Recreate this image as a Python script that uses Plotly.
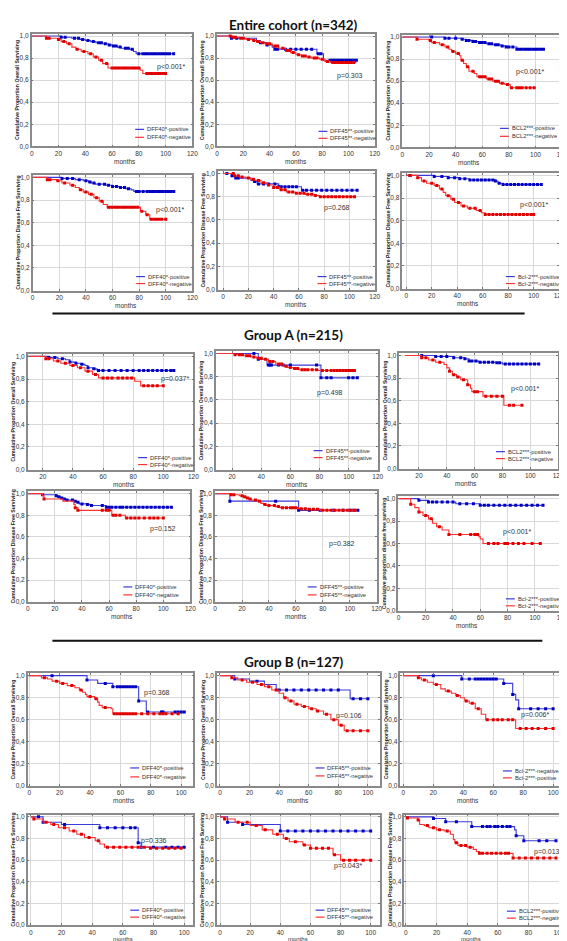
import plotly.graph_objects as go
from bisect import bisect_right

# ---------------- DATA (step times t, survival s, censor times c) ----------------
# Entire cohort, overall survival
e_os_dff40_pos_t = [0, 22, 30, 36, 40, 44, 48, 53, 57, 60, 64, 67, 73, 76, 78, 106]
e_os_dff40_pos_s = [1, .99, .98, .97, .96, .95, .94, .93, .92, .91, .90, .89, .88, .86, .84, .84]
e_os_dff40_pos_c = [22, 25, 32, 35, 38, 42, 46, 50, 52, 55, 58, 61, 63, 66, 70, 72, 75, 80, 83, 85, 87, 89, 91, 93, 95, 97, 99, 101, 103, 106]
e_os_dff40_neg_t = [0, 11, 20, 22, 26, 30, 33, 37, 42, 46, 50, 53, 57, 81, 83, 100]
e_os_dff40_neg_s = [1, .98, .97, .95, .93, .90, .88, .86, .84, .81, .78, .75, .71, .69, .66, .66]
e_os_dff40_neg_c = [11, 13, 20, 24, 28, 34, 39, 44, 48, 52, 56, 60, 62, 64, 66, 68, 70, 72, 74, 76, 78, 80, 86, 88, 90, 92, 94, 96, 98, 100]

e_os_dff45_pos_t = [0, 11, 30, 33, 38, 42, 44, 76, 81, 106]
e_os_dff45_pos_s = [1, .98, .96, .94, .92, .90, .88, .84, .78, .78]
e_os_dff45_pos_c = [11, 15, 33, 38, 44, 46, 52, 56, 60, 64, 68, 72, 77, 79, 86, 88, 90, 92, 94, 96, 98, 100, 102, 104, 106]
e_os_dff45_neg_t = [0, 12, 17, 22, 27, 30, 33, 37, 42, 47, 52, 56, 60, 64, 68, 72, 78, 82, 86, 106]
e_os_dff45_neg_s = [1, .99, .98, .97, .96, .95, .94, .93, .91, .89, .87, .85, .83, .82, .81, .80, .79, .77, .76, .76]
e_os_dff45_neg_c = [10, 12, 14, 18, 20, 24, 28, 31, 35, 38, 40, 44, 46, 50, 53, 55, 58, 62, 65, 67, 70, 74, 76, 80, 84, 88, 90, 92, 94, 96, 98, 100, 102, 104]

e_os_bcl2_pos_t = [0, 32, 44, 48, 53, 57, 63, 68, 74, 78, 86, 106]
e_os_bcl2_pos_s = [1, .99, .98, .97, .96, .95, .94, .93, .92, .91, .89, .89]
e_os_bcl2_pos_c = [22, 32, 35, 40, 45, 48, 50, 53, 55, 58, 60, 62, 65, 67, 70, 72, 75, 78, 80, 83, 86, 88, 90, 92, 94, 96, 98, 100, 102, 104, 106]
e_os_bcl2_neg_t = [0, 11, 20, 22, 28, 32, 35, 37, 40, 43, 44, 46, 48, 50, 54, 56, 63, 68, 73, 77, 81, 100]
e_os_bcl2_neg_s = [1, .98, .97, .95, .93, .91, .89, .87, .85, .83, .79, .76, .73, .69, .67, .64, .62, .60, .58, .57, .54, .54]
e_os_bcl2_neg_c = [11, 21, 24, 30, 34, 38, 42, 45, 49, 53, 58, 60, 62, 65, 67, 70, 72, 75, 79, 82, 86, 88, 90, 93, 96, 99]

# Entire cohort, disease free survival
e_dfs_dff40_pos_t = [0, 22, 32, 38, 42, 44, 47, 55, 60, 65, 70, 74, 76, 106]
e_dfs_dff40_pos_s = [1, .99, .98, .97, .96, .95, .94, .93, .92, .91, .90, .89, .876, .876]
e_dfs_dff40_pos_c = [22, 26, 30, 35, 40, 43, 46, 50, 54, 57, 60, 63, 66, 69, 72, 78, 80, 83, 86, 88, 90, 92, 94, 96, 98, 100, 102, 104, 106]
e_dfs_dff40_neg_t = [0, 11, 18, 22, 28, 32, 35, 38, 42, 46, 50, 53, 56, 81, 85, 88, 100]
e_dfs_dff40_neg_s = [1, .98, .97, .95, .93, .91, .89, .87, .85, .82, .79, .76, .735, .70, .67, .63, .63]
e_dfs_dff40_neg_c = [11, 13, 19, 24, 30, 36, 40, 44, 48, 52, 57, 59, 61, 63, 65, 67, 69, 71, 73, 75, 77, 79, 82, 86, 89, 91, 93, 95, 97, 100]

e_dfs_dff45_pos_t = [0, 7, 10, 22, 24, 27, 44, 62, 106]
e_dfs_dff45_pos_s = [1, .98, .96, .94, .93, .91, .885, .855, .855]
e_dfs_dff45_pos_c = [3, 7, 10, 12, 25, 28, 32, 36, 41, 44, 46, 49, 52, 55, 58, 63, 66, 70, 74, 78, 82, 86, 90, 94, 98, 102, 106]
e_dfs_dff45_neg_t = [0, 9, 13, 18, 22, 25, 30, 35, 40, 45, 50, 57, 65, 72, 76, 104]
e_dfs_dff45_neg_s = [1, .98, .97, .96, .95, .94, .92, .90, .88, .86, .84, .83, .82, .81, .80, .80]
e_dfs_dff45_neg_c = [8, 9, 12, 15, 20, 24, 28, 32, 36, 40, 43, 46, 49, 52, 55, 58, 61, 64, 67, 70, 73, 77, 80, 83, 86, 89, 92, 95, 98, 101, 104]

e_dfs_bcl2_pos_t = [0, 22, 33, 42, 50, 70, 72, 76, 106]
e_dfs_bcl2_pos_s = [1, .99, .98, .97, .96, .95, .93, .92, .92]
e_dfs_bcl2_pos_c = [3, 22, 28, 33, 38, 42, 46, 50, 53, 56, 59, 62, 65, 68, 70, 73, 76, 79, 82, 85, 88, 91, 94, 97, 100, 103, 106]
e_dfs_bcl2_neg_t = [0, 9, 12, 16, 22, 26, 29, 31, 35, 38, 43, 48, 55, 59, 62, 100]
e_dfs_bcl2_neg_s = [1, .98, .95, .93, .91, .88, .85, .82, .79, .76, .73, .71, .69, .67, .655, .655]
e_dfs_bcl2_neg_c = [3, 9, 14, 20, 24, 28, 33, 37, 41, 45, 50, 54, 58, 62, 65, 68, 71, 74, 77, 80, 83, 86, 89, 92, 95, 98, 100]

# Group A, overall survival
a_os_dff40_pos_t = [10, 24, 30, 35, 38, 42, 45, 48, 50, 53, 56, 107]
a_os_dff40_pos_s = [1, .99, .98, .97, .95, .94, .93, .92, .90, .89, .875, .875]
a_os_dff40_pos_c = [24, 28, 33, 38, 42, 46, 50, 54, 57, 60, 64, 68, 72, 76, 80, 84, 87, 90, 93, 96, 99, 102, 105, 107]
a_os_dff40_neg_t = [10, 22, 27, 32, 38, 43, 48, 53, 57, 81, 85, 100]
a_os_dff40_neg_s = [1, .98, .96, .94, .92, .90, .87, .84, .81, .78, .74, .74]
a_os_dff40_neg_c = [22, 24, 30, 35, 40, 45, 50, 55, 60, 63, 66, 70, 73, 76, 79, 87, 90, 93, 96, 100]

a_os_dff45_pos_t = [10, 38, 44, 81, 106]
a_os_dff45_pos_s = [1, .95, .90, .79, .79]
a_os_dff45_pos_c = [35, 38, 45, 46, 47, 52, 55, 60, 78, 81, 85, 88, 100, 103, 106]
a_os_dff45_neg_t = [10, 22, 28, 33, 37, 41, 45, 50, 55, 58, 62, 66, 79, 104]
a_os_dff45_neg_s = [1, .99, .98, .97, .96, .95, .93, .91, .89, .88, .87, .86, .853, .853]
a_os_dff45_neg_c = [22, 25, 27, 30, 32, 35, 38, 40, 43, 46, 48, 52, 54, 57, 60, 63, 65, 68, 70, 72, 75, 78, 82, 85, 88, 90, 92, 94, 96, 98, 100, 102, 104]

a_os_bcl2_pos_t = [10, 32, 45, 53, 56, 63, 75, 80, 106]
a_os_bcl2_pos_s = [1, .99, .98, .97, .95, .94, .935, .925, .925]
a_os_bcl2_pos_c = [22, 32, 36, 40, 45, 50, 53, 56, 58, 61, 64, 67, 70, 73, 76, 78, 82, 85, 88, 91, 94, 97, 100, 103, 106]
a_os_bcl2_neg_t = [10, 22, 27, 32, 38, 40, 42, 44, 47, 50, 55, 57, 58, 66, 81, 94]
a_os_bcl2_neg_s = [1, .98, .96, .94, .92, .89, .86, .83, .81, .785, .74, .71, .68, .64, .56, .56]
a_os_bcl2_neg_c = [22, 25, 30, 35, 42, 45, 48, 52, 55, 60, 62, 68, 72, 76, 80, 85, 88, 94]

# Group A, disease free survival
a_dfs_dff40_pos_t = [0, 11, 21, 22, 24, 26, 28, 34, 36, 38, 44, 46, 58, 106]
a_dfs_dff40_pos_s = [1, .99, .98, .97, .96, .95, .94, .93, .92, .905, .90, .89, .875, .875]
a_dfs_dff40_pos_c = [11, 21, 23, 25, 27, 29, 33, 35, 37, 40, 44, 47, 55, 58, 60, 62, 65, 68, 70, 73, 76, 79, 82, 85, 88, 91, 94, 97, 100, 103, 106]
a_dfs_dff40_neg_t = [0, 11, 12, 26, 34, 35, 37, 62, 72, 100]
a_dfs_dff40_neg_s = [1, .98, .95, .93, .90, .87, .845, .80, .775, .775]
a_dfs_dff40_neg_c = [12, 35, 37, 55, 58, 60, 63, 65, 68, 73, 76, 79, 82, 86, 90, 93, 96, 100]

a_dfs_dff45_pos_t = [0, 11, 62, 106]
a_dfs_dff45_pos_s = [1, .93, .845, .845]
a_dfs_dff45_pos_c = [11, 45, 62, 70, 78, 88, 95, 100, 103, 106]
a_dfs_dff45_neg_t = [0, 12, 18, 21, 23, 25, 27, 32, 34, 36, 38, 45, 48, 62, 70, 78, 104]
a_dfs_dff45_neg_s = [1, .99, .98, .97, .96, .95, .94, .93, .91, .90, .89, .88, .87, .86, .855, .845, .845]
a_dfs_dff45_neg_c = [12, 14, 20, 22, 24, 26, 30, 33, 37, 40, 44, 47, 50, 53, 56, 58, 60, 64, 67, 70, 73, 76, 80, 83, 86, 89, 92, 95, 98, 101, 104]

a_dfs_bcl2_pos_t = [0, 15, 22, 42, 60, 106]
a_dfs_bcl2_pos_s = [1, .985, .97, .955, .94, .94]
a_dfs_bcl2_pos_c = [15, 22, 25, 28, 32, 36, 40, 45, 50, 55, 60, 63, 66, 70, 74, 78, 82, 86, 90, 94, 98, 102, 106]
a_dfs_bcl2_neg_t = [0, 9, 12, 15, 18, 22, 25, 28, 32, 37, 59, 60, 62, 104]
a_dfs_bcl2_neg_s = [1, .95, .92, .88, .85, .82, .78, .75, .72, .68, .66, .64, .60, .60]
a_dfs_bcl2_neg_c = [9, 15, 20, 24, 30, 37, 45, 53, 56, 58, 66, 70, 73, 78, 80, 84, 88, 92, 98, 104]

# Group B, overall survival
b_os_dff40_pos_t = [0, 38, 45, 55, 72, 77, 102]
b_os_dff40_pos_s = [1, .96, .93, .90, .77, .67, .67]
b_os_dff40_pos_c = [15, 38, 50, 55, 58, 60, 62, 64, 66, 68, 70, 72, 78, 87, 88, 96, 98, 100, 102]
b_os_dff40_neg_t = [0, 8, 12, 15, 20, 25, 30, 33, 35, 37, 38, 43, 45, 46, 48, 54, 55, 98]
b_os_dff40_neg_s = [1, .98, .97, .95, .93, .91, .89, .87, .85, .83, .81, .79, .76, .73, .71, .70, .655, .655]
b_os_dff40_neg_c = [10, 18, 22, 28, 34, 40, 44, 50, 56, 58, 60, 62, 64, 66, 68, 70, 74, 78, 82, 86, 88, 90, 94, 98]

b_os_dff45_pos_t = [0, 10, 20, 30, 38, 88, 100]
b_os_dff45_pos_s = [1, .97, .95, .92, .87, .79, .79]
b_os_dff45_pos_c = [10, 25, 40, 45, 50, 55, 60, 65, 70, 75, 80, 90, 95, 100]
b_os_dff45_neg_t = [0, 8, 12, 18, 25, 30, 35, 40, 43, 46, 50, 55, 60, 65, 70, 75, 80, 84, 100]
b_os_dff45_neg_s = [1, .98, .96, .94, .92, .90, .87, .84, .80, .77, .74, .72, .70, .68, .65, .60, .55, .50, .50]
b_os_dff45_neg_c = [8, 15, 22, 28, 33, 38, 44, 48, 52, 57, 62, 66, 72, 77, 82, 86, 90, 95, 100]

b_os_bcl2_pos_t = [0, 39, 67, 73, 75, 77, 100]
b_os_bcl2_pos_s = [1, .97, .93, .83, .78, .70, .70]
b_os_bcl2_pos_c = [20, 39, 44, 48, 50, 52, 54, 56, 58, 60, 62, 67, 73, 77, 85, 90, 95, 100]
b_os_bcl2_neg_t = [0, 10, 12, 16, 20, 25, 28, 32, 35, 38, 41, 44, 48, 52, 55, 75, 100]
b_os_bcl2_neg_s = [1, .98, .96, .94, .92, .88, .86, .84, .82, .80, .77, .75, .70, .65, .60, .52, .52]
b_os_bcl2_neg_c = [10, 14, 22, 30, 36, 42, 46, 50, 56, 60, 63, 66, 70, 73, 78, 82, 86, 90, 95, 100]

# Group B, disease free survival
b_dfs_dff40_pos_t = [0, 8, 20, 45, 70, 72, 100]
b_dfs_dff40_pos_s = [1, .95, .93, .90, .76, .72, .72]
b_dfs_dff40_pos_c = [5, 8, 22, 45, 50, 55, 60, 65, 68, 70, 72, 80, 88, 92, 96, 100]
b_dfs_dff40_neg_t = [0, 2, 8, 13, 18, 25, 30, 35, 42, 45, 48, 78, 98]
b_dfs_dff40_neg_s = [1, .98, .95, .93, .90, .87, .84, .81, .78, .75, .72, .71, .71]
b_dfs_dff40_neg_c = [2, 10, 15, 22, 28, 33, 38, 44, 50, 54, 58, 62, 66, 70, 74, 78, 82, 86, 90, 94, 98]

b_dfs_dff45_pos_t = [0, 5, 15, 40, 100]
b_dfs_dff45_pos_s = [1, .95, .93, .87, .87]
b_dfs_dff45_pos_c = [5, 15, 40, 45, 50, 55, 60, 65, 70, 75, 80, 85, 90, 95, 100]
b_dfs_dff45_neg_t = [0, 3, 10, 20, 28, 35, 42, 46, 55, 60, 75, 80, 100]
b_dfs_dff45_neg_s = [1, .98, .95, .92, .88, .84, .80, .77, .74, .71, .65, .60, .60]
b_dfs_dff45_neg_c = [3, 12, 18, 24, 30, 38, 44, 50, 56, 60, 64, 68, 72, 76, 82, 86, 90, 95, 100]

b_dfs_bcl2_pos_t = [0, 18, 26, 43, 71, 72, 77, 98]
b_dfs_bcl2_pos_s = [1, .985, .955, .91, .88, .825, .78, .78]
b_dfs_bcl2_pos_c = [18, 26, 33, 43, 50, 53, 55, 58, 60, 63, 66, 68, 72, 77, 87, 92, 98]
b_dfs_bcl2_neg_t = [0, 1, 8, 9, 12, 15, 20, 25, 29, 31, 32, 34, 40, 44, 46, 48, 70, 98]
b_dfs_bcl2_neg_s = [1, .99, .97, .93, .92, .90, .88, .87, .84, .79, .76, .735, .72, .70, .68, .663, .62, .62]
b_dfs_bcl2_neg_c = [1, 8, 14, 18, 22, 27, 33, 36, 39, 42, 48, 50, 53, 56, 59, 62, 65, 67, 70, 74, 78, 82, 86, 90, 94, 98]

# Text
section_titles = ["Entire cohort (n=342)", "Group A (n=215)", "Group B (n=127)"]
ylab_os = "Cumulative Proportion Overall Surviving"
ylab_dfs = "Cumulative Proportion Disease Free Surviving"
ylab_dfs_lc = "Cumulative proportion disease free surviving"
p_texts = ["p<0.001*", "p=0.303", "p<0.001*", "p<0.001*", "p=0.268", "p<0.001*",
           "p=0.037*", "p=0.498", "p<0.001*", "p=0.152", "p=0.382", "p<0.001*",
           "p=0.368", "p=0.106", "p=0.006*", "p=0.336", "p=0.043*", "p=0.013*"]
y_ticks = [0, 0.2, 0.4, 0.6, 0.8, 1.0]
x_ticks_120 = [0, 20, 40, 60, 80, 100, 120]
x_ticks_a = [20, 40, 60, 80, 100, 120]
x_ticks_100 = [0, 20, 40, 60, 80, 100]

# ---------------- LAYOUT SPEC ----------------
W, H = 567, 941
BLUE_L, BLUE_M = "#3a3ad8", "#0000c0"
RED_L, RED_M = "#ff3030", "#e00000"

def L(name):
    g = globals()
    return (g[name + "_pos_t"], g[name + "_pos_s"], g[name + "_pos_c"],
            g[name + "_neg_t"], g[name + "_neg_s"], g[name + "_neg_c"])

# box (left, right, top, bottom) px, x range, x ticks, ylabel, legend labels, legend pos(px), p pos(data)
panels = [
    ("e_os_dff40", (22, 185, 24, 137), [0, 120], x_ticks_120, ylab_os, ("DFF40*-positive", "DFF40*-negative"), (127, 120, 128), (104, 0.715)),
    ("e_os_dff45", (210, 370, 24, 137), [0, 120], x_ticks_120, ylab_os, ("DFF45**-positive", "DFF45**-negative"), (313, 122, 129), (101, 0.635)),
    ("e_os_bcl2", (398, 560, 25, 138), [0, 120], x_ticks_120, ylab_os, ("BCL2***-positive", "BCL2***-negative"), (497, 119, 127), (96, 0.68)),
    ("e_dfs_dff40", (23, 185, 166, 282), [0, 120], x_ticks_120, ylab_dfs, ("DFF40*-positive", "DFF40*-negative"), (128, 268, 275), (103, 0.71)),
    ("e_dfs_dff45", (211, 370, 162, 281), [-4, 120], x_ticks_120, ylab_dfs, ("DFF45**-positive", "DFF45**-negative"), (312, 268, 275), (90, 0.70)),
    ("e_dfs_bcl2", (398, 557, 164, 280), [-3, 120], x_ticks_120, ylab_dfs, ("Bcl-2***-positive", "Bcl-2***-negative"), (503, 268, 275), (100, 0.74)),
    ("a_os_dff40", (18, 186, 346, 462), [10, 120], x_ticks_a, ylab_os, ("DFF40*-positive", "DFF40*-negative"), (130, 450, 457), (108, 0.80)),
    ("a_os_dff45", (209, 373, 343, 462), [9, 120], x_ticks_a, ylab_os, ("DFF45**-positive", "DFF45**-negative"), (308, 443, 450), (87, 0.656)),
    ("a_os_bcl2", (395, 556, 345, 461), [6, 120], x_ticks_a, ylab_os, ("BCL2***-positive", "BCL2***-negative"), (493, 444, 451), (96, 0.706)),
    ("a_dfs_dff40", (18, 183, 484, 595), [0, 120], x_ticks_120, ylab_dfs, ("DFF40*-positive", "DFF40*-negative"), (115, 580, 588), (100, 0.67)),
    ("a_dfs_dff45", (208, 372, 484, 595), [0, 120], x_ticks_120, ylab_dfs, ("DFF45**-positive", "DFF45**-negative"), (302, 580, 588), (94, 0.53)),
    ("a_dfs_bcl2", (394, 560, 489, 604), [0, 120], x_ticks_120, ylab_dfs_lc, ("Bcl-2***-positive", "Bcl-2***-negative"), (503, 592, 599), (87, 0.70)),
    ("b_os_dff40", (18, 186, 667, 780), [-1, 108], x_ticks_100, ylab_os, ("DFF40*-positive", "DFF40*-negative"), (122, 762, 771), (84, 0.84)),
    ("b_os_dff45", (210, 375, 667, 780), [-2, 108], x_ticks_100, ylab_os, ("DFF45**-positive", "DFF45**-negative"), (310, 762, 770), (87, 0.63)),
    ("b_os_bcl2", (396, 560, 667, 780), [-2, 106], x_ticks_100, ylab_os, ("Bcl-2***-negative", "Bcl-2***-positive"), (500, 765, 772), (88, 0.64)),
    ("b_dfs_dff40", (18, 186, 809, 920), [-2, 106], x_ticks_100, ylab_dfs, ("DFF40*-positive", "DFF40*-negative"), (122, 905, 912), (80, 0.78)),
    ("b_dfs_dff45", (210, 375, 809, 920), [-2, 106], x_ticks_100, ylab_dfs, ("DFF45**-positive", "DFF45**-negative"), (310, 905, 912), (85, 0.55)),
    ("b_dfs_bcl2", (400, 560, 809, 920), [-1, 102], x_ticks_100, ylab_dfs, ("BCL2***-positive", "BCL2***-negative"), (504, 906, 913), (93, 0.68)),
]

def surv_at(ts, ss, c):
    i = bisect_right(ts, c) - 1
    return ss[max(i, 0)]

fig = go.Figure()
layout = dict(width=W, height=H, margin=dict(l=0, r=0, t=0, b=0),
              paper_bgcolor="white", plot_bgcolor="white", showlegend=False,
              separators=",.", font=dict(family="Liberation Sans, Arial", color="#222"))
annotations, shapes = [], []

for k, (name, box, xr, xt, ylab, leg, legpos, ppos) in enumerate(panels):
    i = k + 1
    xa, ya = ("x" if i == 1 else f"x{i}"), ("y" if i == 1 else f"y{i}")
    l, r, t, b = box
    pt, ps, pc, nt, ns, nc = L(name)
    for (tt, sl, cc, lc, mc) in ((pt, ps, pc, BLUE_L, BLUE_M), (nt, ns, nc, RED_L, RED_M)):
        fig.add_trace(go.Scatter(x=tt, y=sl, mode="lines", line=dict(color=lc, width=1.1, shape="hv"),
                                 xaxis=xa, yaxis=ya, hoverinfo="skip"))
        fig.add_trace(go.Scatter(x=cc, y=[surv_at(tt, sl, c) for c in cc], mode="markers",
                                 marker=dict(symbol="square", size=3, color=mc, line=dict(width=0)),
                                 xaxis=xa, yaxis=ya, hoverinfo="skip"))
    axcommon = dict(showgrid=True, gridcolor="#d9d9d9", gridwidth=1, zeroline=False,
                    showline=True, linecolor="#8a8a8a", linewidth=1.5, mirror="ticks",
                    ticks="inside", ticklen=2, tickcolor="#777", tickfont=dict(size=6.5, color="#333"))
    layout["xaxis" if i == 1 else f"xaxis{i}"] = dict(domain=[l / W, r / W], range=xr, anchor=ya,
                                                       tickvals=xt, **axcommon)
    layout["yaxis" if i == 1 else f"yaxis{i}"] = dict(domain=[1 - b / H, 1 - t / H], range=[0, 1.02], anchor=xa,
                                                       tickvals=y_ticks, tickformat=".1f", **axcommon)
    # axis titles
    last_row = k >= 15
    annotations.append(dict(text="months", x=(l + r) / 2 / W, y=1 - (b + (14 if last_row else 15)) / H,
                            xref="paper", yref="paper", showarrow=False,
                            font=dict(size=6 if last_row else 6.5, color="#333"), yanchor="middle"))
    annotations.append(dict(text="<b>" + ylab + "</b>", x=(l - 15) / W, y=1 - (t + b) / 2 / H, xref="paper", yref="paper",
                            textangle=-90, showarrow=False, font=dict(size=5.2, color="#222"), xanchor="center", yanchor="middle"))
    # p value
    annotations.append(dict(text=p_texts[k], x=ppos[0], y=ppos[1], xref=xa, yref=ya, showarrow=False,
                            font=dict(size=7, color="#333")))
    # legend
    lx, y1, y2 = legpos
    cols = (BLUE_L, RED_L)
    for j, (yy, lab) in enumerate(((y1, leg[0]), (y2, leg[1]))):
        shapes.append(dict(type="line", xref="paper", yref="paper", x0=lx / W, x1=(lx + 9) / W,
                           y0=1 - yy / H, y1=1 - yy / H, line=dict(color=cols[j], width=1.2)))
        annotations.append(dict(text=lab, x=(lx + 10) / W, y=1 - yy / H, xref="paper", yref="paper",
                                xanchor="left", yanchor="middle", showarrow=False,
                                font=dict(size=5.8, color="#333")))

# section titles
for txt, yy in zip(section_titles, (15, 327, 655)):
    annotations.append(dict(text="<b>" + txt + "</b>", x=288 / W, y=1 - yy / H, xref="paper", yref="paper",
                            showarrow=False, font=dict(family="Lato, Liberation Sans", size=13.5, color="#111"),
                            yanchor="middle"))
# separators
for yy, x0, x1 in ((305, 43, 522), (634, 43, 540)):
    shapes.append(dict(type="line", xref="paper", yref="paper", x0=x0 / W, x1=x1 / W,
                       y0=1 - yy / H, y1=1 - yy / H, line=dict(color="#111", width=2)))

layout["annotations"] = annotations
layout["shapes"] = shapes
fig.update_layout(**layout)
fig.write_html("out.html")
